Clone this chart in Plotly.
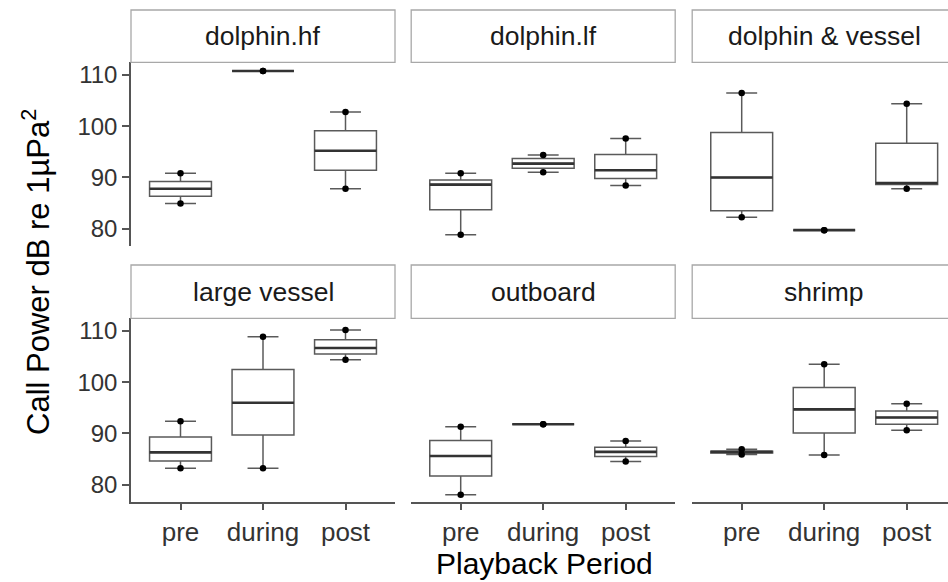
import plotly.graph_objects as go

# facets in display order (2 rows x 3 cols)
facets = ["dolphin.hf", "dolphin.lf", "dolphin & vessel",
          "large vessel", "outboard", "shrimp"]
periods = ["pre", "during", "post"]

# box stats per facet, one value per period (pre, during, post)
low = [[84.9, 110.8, 87.8], [78.8, 91.0, 88.4], [82.2, 79.7, 87.8],
       [83.2, 83.2, 104.4], [78.0, 91.8, 84.5], [85.9, 85.8, 90.6]]
q1 = [[86.3, 110.8, 91.4], [83.7, 91.8, 89.8], [83.5, 79.7, 88.6],
      [84.6, 89.7, 105.5], [81.7, 91.8, 85.5], [86.2, 90.1, 91.8]]
med = [[87.8, 110.8, 95.2], [88.6, 92.7, 91.4], [90.0, 79.7, 88.9],
       [86.3, 96.0, 106.7], [85.6, 91.8, 86.4], [86.4, 94.7, 93.1]]
q3 = [[89.2, 110.8, 99.1], [89.5, 93.7, 94.5], [98.8, 79.7, 96.7],
      [89.3, 102.5, 108.3], [88.6, 91.8, 87.3], [86.5, 99.0, 94.4]]
high = [[90.8, 110.8, 102.8], [90.8, 94.4, 97.6], [106.5, 79.7, 104.4],
        [92.4, 108.9, 110.2], [91.3, 91.8, 88.5], [86.9, 103.5, 95.8]]

yticks = [80, 90, 100, 110]

W, H = 948, 582
FONT = "Liberation Sans, Arial, sans-serif"

# panel geometry in pixels
col_left = [131.0, 411.2, 692.2]
col_width = 264.0
plot_rows = [(62.3, 246.0), (318.3, 502.0)]
strip_rows = [(10.0, 62.3), (265.0, 318.3)]

fig = go.Figure()

for i, name in enumerate(facets):
    r, c = divmod(i, 3)
    ax = "" if i == 0 else str(i + 1)
    xa, ya = "x" + ax, "y" + ax

    fig.add_trace(go.Box(
        x=periods, q1=q1[i], median=med[i], q3=q3[i],
        lowerfence=low[i], upperfence=high[i],
        width=0.75, fillcolor="white",
        line=dict(color="#5a5a5a", width=1.5),
        boxpoints=False, showlegend=False, hoverinfo="skip",
        xaxis=xa, yaxis=ya))
    # thicker median line
    fig.add_trace(go.Box(
        x=periods, q1=med[i], median=med[i], q3=med[i],
        lowerfence=med[i], upperfence=med[i],
        width=0.75, fillcolor="rgba(0,0,0,0)",
        line=dict(color="#333333", width=2.6),
        boxpoints=False, showlegend=False, hoverinfo="skip",
        xaxis=xa, yaxis=ya))
    fig.add_trace(go.Scatter(
        x=periods + periods, y=low[i] + high[i], mode="markers",
        marker=dict(color="black", size=6.5),
        showlegend=False, hoverinfo="skip", xaxis=xa, yaxis=ya))

    x0 = col_left[c]
    x1 = min(x0 + col_width, W)
    xmax = -0.6 + 3.2 * (x1 - x0) / col_width
    top, bot = plot_rows[r]
    fig.layout["xaxis" + ax] = dict(
        domain=[x0 / W, x1 / W], range=[-0.6, xmax], anchor=ya,
        type="category", categoryorder="array", categoryarray=periods,
        showgrid=False, zeroline=False,
        showline=(r == 1), linecolor="#555555", linewidth=1.5,
        ticks="outside" if r == 1 else "", ticklen=6, tickwidth=1.5,
        tickcolor="#555555", showticklabels=(r == 1),
        tickfont=dict(family=FONT, size=26, color="#333333"))
    fig.layout["yaxis" + ax] = dict(
        domain=[1 - bot / H, 1 - top / H], range=[76.6, 112.5], anchor=xa,
        tickvals=yticks, showgrid=False, zeroline=False,
        showline=(c == 0), linecolor="#555555", linewidth=1.5,
        ticks="outside" if c == 0 else "", ticklen=7, tickwidth=1.5,
        tickcolor="#555555", showticklabels=(c == 0),
        tickfont=dict(family=FONT, size=24, color="#333333"))

    # facet strip
    s0, s1 = strip_rows[r]
    fig.add_shape(type="rect", xref="paper", yref="paper",
                  x0=x0 / W, x1=(x0 + col_width) / W,
                  y0=1 - s1 / H, y1=1 - s0 / H,
                  line=dict(color="#a8a8a8", width=1.3), fillcolor="white")
    fig.add_annotation(text=name, xref="paper", yref="paper",
                       x=(x0 + col_width / 2) / W, y=1 - (s0 + s1) / 2 / H,
                       showarrow=False, xanchor="center", yanchor="middle",
                       font=dict(family=FONT, size=26.5, color="#1a1a1a"))

fig.add_annotation(text="Playback Period", xref="paper", yref="paper",
                   x=544 / W, y=1 - 563 / H, showarrow=False,
                   xanchor="center", yanchor="middle",
                   font=dict(family=FONT, size=30, color="black"))
fig.add_annotation(text="Call Power dB re 1µPa<sup>2</sup>", xref="paper", yref="paper",
                   x=36 / W, y=1 - 272 / H, showarrow=False, textangle=-90,
                   xanchor="center", yanchor="middle",
                   font=dict(family=FONT, size=31, color="black"))

fig.update_layout(width=W, height=H, margin=dict(l=0, r=0, t=0, b=0),
                  paper_bgcolor="white", plot_bgcolor="white",
                  boxmode="overlay")

# drop the default page margin so the figure sits at the window corner
fig.write_html("out.html", config={"displayModeBar": False},
               post_script="document.body.style.margin='0';")
